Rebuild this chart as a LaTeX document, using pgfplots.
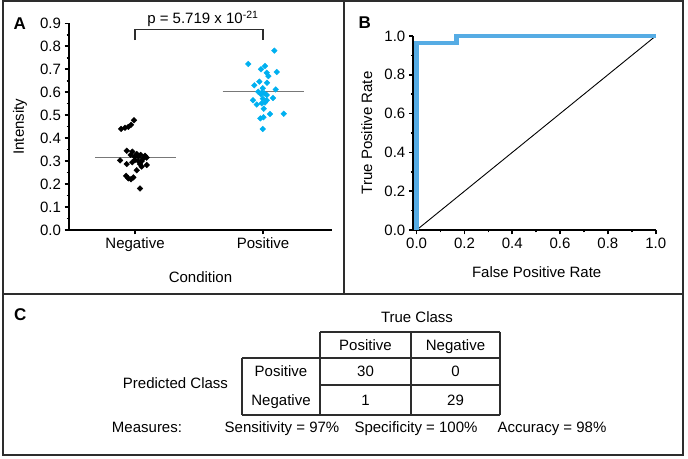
\documentclass[border=0pt]{standalone}
\usepackage{fontspec}
\setmainfont{Liberation Sans}
\usepackage{pgfplots}
\pgfplotsset{compat=1.18}

\definecolor{posc}{RGB}{0,176,240}
\definecolor{rocc}{RGB}{86,172,228}
\definecolor{framec}{RGB}{45,45,45}
\definecolor{medc}{RGB}{120,120,120}
\newcommand\fs{\fontsize{15}{18}\selectfont}
\newcommand\fsb{\fontsize{17}{20}\selectfont\bfseries}

\pgfplotsset{
  panel/.style={
    scale only axis, anchor=south west, clip=false,
    axis x line*=bottom, axis y line*=left,
    axis line style={line width=1.8pt, black},
    tick style={line width=1.6pt, black},
    tick align=outside,
    major tick length=4.5pt, minor tick length=2.5pt,
    ticklabel style={font=\fs},
    label style={font=\fs},
    /pgf/number format/assume math mode=true,
    xticklabel style={/pgf/number format/fixed, /pgf/number format/fixed zerofill, /pgf/number format/precision=1},
    yticklabel style={/pgf/number format/fixed, /pgf/number format/fixed zerofill, /pgf/number format/precision=1},
  },
  dot/.style={only marks, mark=square*, mark size=2pt,
    every mark/.append style={rotate=45}},
}

\begin{document}
\begin{tikzpicture}
\useasboundingbox (0pt,0pt) rectangle (688pt,458pt);

% ---- A: intensity by condition
\begin{axis}[panel, at={(69pt,228pt)}, width=263pt, height=206.7pt,
  xmin=0.484, xmax=2.539, ymin=0, ymax=0.9,
  xtick={1,2}, xticklabels={Negative,Positive},
  ytick={0,0.1,0.2,0.3,0.4,0.5,0.6,0.7,0.8,0.9}, minor y tick num=1,
  xlabel={Condition}, ylabel={Intensity},
  xlabel style={at={(axis description cs:0.5,-0.227)}, anchor=center},
  ylabel style={at={(axis description cs:-0.186,0.5)}, anchor=center},
]
\addplot[medc, line width=1.5pt] coordinates {(0.69,0.316) (1.32,0.316)};
\addplot[medc, line width=1.5pt] coordinates {(1.685,0.602) (2.32,0.602)};
\addplot[dot, color=black] coordinates {
  (0.891,0.440) (0.922,0.445) (0.948,0.449) (0.969,0.458) (0.992,0.478)
  (0.935,0.345) (0.979,0.341) (1.013,0.331) (1.044,0.327) (1.078,0.323)
  (0.995,0.319) (1.026,0.319) (1.060,0.309) (1.091,0.315) (0.883,0.303)
  (0.935,0.287) (0.979,0.295) (1.000,0.305) (1.039,0.287) (1.052,0.276)
  (1.091,0.283) (1.013,0.260) (0.930,0.236) (0.948,0.225) (0.969,0.221)
  (0.987,0.229) (1.039,0.181) (0.966,0.327) (1.052,0.300) (1.026,0.300)
};
\addplot[dot, color=posc] coordinates {
  (2.088,0.781) (1.885,0.723) (2.016,0.714) (1.984,0.700) (2.029,0.685)
  (2.107,0.688) (2.042,0.670) (1.971,0.646) (2.031,0.641) (1.932,0.630)
  (1.998,0.617) (2.099,0.612) (1.963,0.602) (1.990,0.598) (2.010,0.595)
  (1.984,0.591) (2.029,0.588) (2.078,0.575) (1.922,0.565) (1.998,0.572)
  (2.029,0.565) (1.951,0.546) (1.990,0.552) (2.005,0.528) (2.055,0.505)
  (2.162,0.506) (1.979,0.486) (2.003,0.491) (1.998,0.440) (2.015,0.555)
};
\draw[framec, line width=1.2pt] (axis cs:1,0.827) -- (axis cs:1,0.874)
  -- (axis cs:2,0.874) -- (axis cs:2,0.827);
\node[font=\fs, anchor=base] at (axis cs:1.53,0.897) {p = 5.719 x 10\textsuperscript{-21}};
\end{axis}

% ---- B: ROC curve
\begin{axis}[panel, at={(413.3pt,228pt)}, width=242.4pt, height=194pt,
  xmin=-0.014, xmax=1, ymin=0, ymax=1,
  xtick={0,0.2,0.4,0.6,0.8,1}, ytick={0,0.2,0.4,0.6,0.8,1}, minor tick num=1,
  xlabel={False Positive Rate}, ylabel={True Positive Rate},
  xlabel style={at={(axis description cs:0.509,-0.2165)}, anchor=center},
  ylabel style={at={(axis description cs:-0.192,0.5)}, anchor=center},
]
\addplot[black, line width=0.9pt] coordinates {(0,0) (1,1)};
\addplot[rocc, line width=4.5pt] coordinates {(0,0) (0,0.965) (0.167,0.965) (0.167,1) (1,1)};
\end{axis}

% ---- frame, panel letters and C: confusion matrix
\begin{scope}[x=1pt, y=1pt]
\draw[framec, line width=2pt] (2.7,3.3) rectangle (682.7,456.5);
\draw[framec, line width=2pt] (344,164) -- (344,456.5);
\draw[framec, line width=2pt] (2.7,164) -- (682.7,164);
\node[font=\fsb, anchor=base west, inner sep=0pt] at (13.3,428.7) {A};
\node[font=\fsb, anchor=base west, inner sep=0pt] at (358.3,429.7) {B};
\node[font=\fsb, anchor=base west, inner sep=0pt] at (14,137) {C};

\begin{scope}[framec, line width=1.3pt]
\draw (320,126) -- (500,126);
\draw (242,100) -- (500,100);
\draw (320,73) -- (500,73);
\draw (242,43) -- (500,43);
\draw (242,100) -- (242,43);
\draw (320,126) -- (320,43);
\draw (411,126) -- (411,43);
\draw (500,126) -- (500,43);
\end{scope}
\begin{scope}[every node/.style={font=\fs, anchor=base, inner sep=0pt}]
\node at (417,135.6) {True Class};
\node at (365.5,107.6) {Positive};
\node at (455.5,107.6) {Negative};
\node at (281,81.1) {Positive};
\node at (365.5,81.1) {30};
\node at (455.5,81.1) {0};
\node at (281,52.6) {Negative};
\node at (365.5,52.6) {1};
\node at (455.5,52.6) {29};
\node at (175.5,69.6) {Predicted Class};
\node at (147,25.6) {Measures:};
\node at (282,25.6) {Sensitivity = 97\%};
\node at (416,25.6) {Specificity = 100\%};
\node at (552,25.6) {Accuracy = 98\%};
\end{scope}
\end{scope}
\end{tikzpicture}
\end{document}
